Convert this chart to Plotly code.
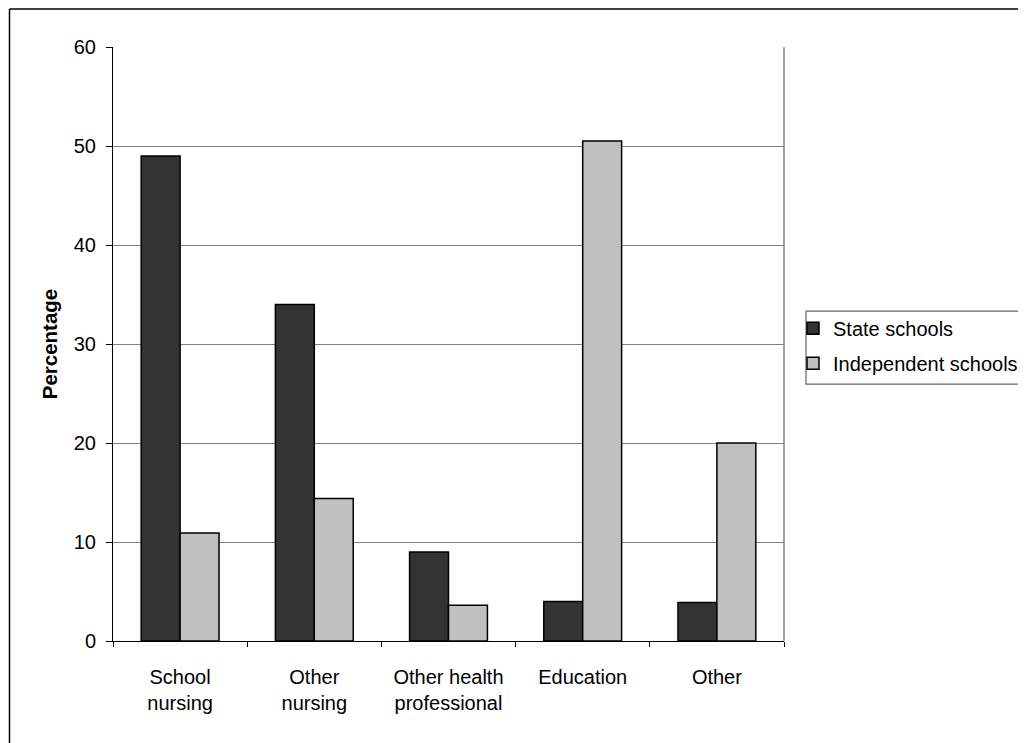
import plotly.graph_objects as go

categories = ["School<br>nursing", "Other<br>nursing", "Other health<br>professional", "Education", "Other"]
state_schools = [49.0, 34.0, 9.0, 4.0, 3.9]
independent_schools = [10.9, 14.4, 3.6, 50.5, 20.0]
y_ticks = [0, 10, 20, 30, 40, 50, 60]

FONT = "Liberation Sans, Arial, sans-serif"
FS = 20

fig = go.Figure()
fig.add_trace(go.Bar(
    x=categories, y=state_schools, name="State schools",
    marker=dict(color="#333333", line=dict(color="#000000", width=1.5)),
    legendgroup="a",
))
fig.add_trace(go.Bar(
    x=categories, y=independent_schools, name="Independent schools",
    marker=dict(color="#C0C0C0", line=dict(color="#000000", width=1.5)),
    legendgroup="b",
))

OFF = 8  # page body margin
W, H = 1026 - OFF, 743 - OFF
# plot area in page pixels
L, T, R, B = 113, 46.7, 784, 641
pw, ph = R - L, B - T

def px(x):
    return (x - L) / pw

def py(y):
    return (B - y) / ph

fig.update_layout(
    width=W, height=H,
    margin=dict(l=L - OFF, r=W - (R - OFF), t=T - OFF, b=H - (B - OFF), autoexpand=False, pad=0),
    paper_bgcolor="white", plot_bgcolor="white",
    font=dict(family=FONT, size=FS, color="#000000"),
    barmode="group", bargap=0.42, bargroupgap=0,
    showlegend=True,
    legend=dict(
        x=px(793), y=py(308.5), xanchor="left", yanchor="top",
        bgcolor="rgba(0,0,0,0)", borderwidth=0,
        font=dict(family=FONT, size=FS, color="#000000"),
        tracegroupgap=6, traceorder="grouped",
    ),
    xaxis=dict(
        type="category", showgrid=False, showline=True, linecolor="#000000", linewidth=1,
        ticks="outside", ticklen=5, tickcolor="#000000", tickson="boundaries",
        tickfont=dict(family=FONT, size=FS, color="#000000"),
        ticklabelstandoff=18,
    ),
    yaxis=dict(
        range=[0, 60], tickvals=y_ticks, showgrid=True, gridcolor="#808080", gridwidth=1,
        showline=True, linecolor="#000000", linewidth=1, zeroline=False,
        ticks="outside", ticklen=6, tickcolor="#000000",
        tickfont=dict(family=FONT, size=FS, color="#000000"),
        ticklabelstandoff=6,
        title=dict(text="<b>Percentage</b>", font=dict(family=FONT, size=20.5, color="#000000"), standoff=10),
    ),
    shapes=[
        # right edge of plot area
        dict(type="line", xref="paper", yref="paper", x0=1, x1=1, y0=0, y1=1,
             line=dict(color="#808080", width=1.5)),
        # legend box
        dict(type="rect", xref="paper", yref="paper", x0=px(806), x1=px(1060), y0=py(384), y1=py(311),
             line=dict(color="#666666", width=1.2), fillcolor="rgba(0,0,0,0)", layer="below"),
        # outer frame (top and left)
        dict(type="line", xref="paper", yref="paper", x0=px(9.5), x1=px(1018), y0=py(8.8), y1=py(8.8),
             line=dict(color="#000000", width=1.5)),
        dict(type="line", xref="paper", yref="paper", x0=px(9.5), x1=px(9.5), y0=py(8.8), y1=py(780),
             line=dict(color="#000000", width=1.5)),
    ],
)

fig.write_html("out.html")
